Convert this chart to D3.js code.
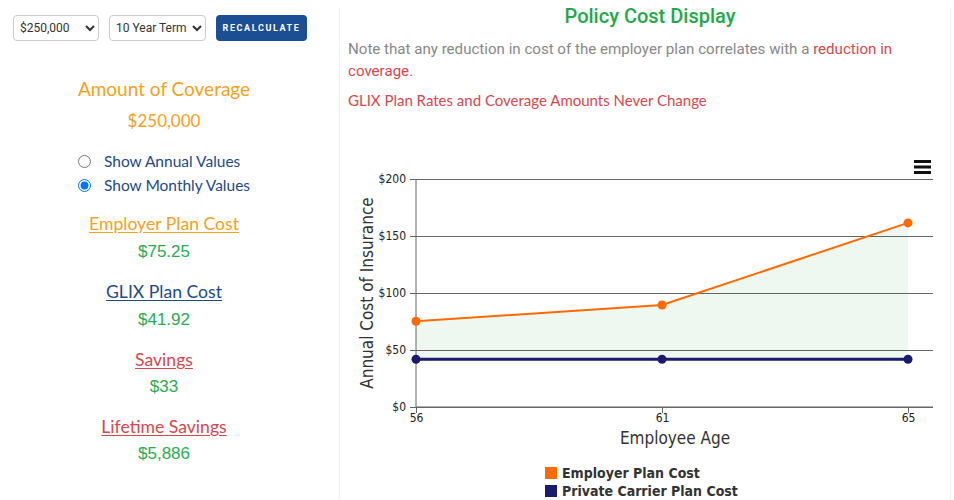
<!DOCTYPE html>
<html>
<head>
<meta charset="utf-8">
<script src="https://cdn.jsdelivr.net/npm/d3@7"></script>
<style>
  body { margin: 0; background: #fff; width: 954px; height: 500px; overflow: hidden; position: relative; font-family: Lato, sans-serif; }
  .abs { position: absolute; }
  select { font-family: Roboto, sans-serif; font-size: 12px; color: #333; height: 26px; border: 1px solid #ccc; border-radius: 4px; background: #fff; padding: 0 2px; }
  .btn { left: 216px; top: 15px; width: 91px; height: 26px; background: #1b4e94; color: #fff; border-radius: 4px;
         font-family: Roboto, sans-serif; font-weight: bold; font-size: 9px; letter-spacing: 1.6px; line-height: 26px; text-align: center; }
  .ctr { left: 0; width: 328px; text-align: center; }
  .lbl { font-size: 17.6px; text-decoration: underline; text-underline-offset: 2px; }
  .val { font-family: "Liberation Sans", Arial, sans-serif; font-size: 17px; color: #27ae4f; }
  .radio { left: 78px; font-size: 15.5px; color: #1d4a8a; display: flex; align-items: center; }
  .radio input { margin: 0 13px 0 0; width: 13px; height: 13px; }
  .divider { top: 8px; width: 1px; height: 492px; background: #f0f0f0; }
</style>
</head>
<body>
<div class="abs divider" style="left:339px"></div>
<div class="abs divider" style="left:950px"></div>

<select class="abs" style="left:13px;top:15px;width:86px"><option>$250,000</option></select>
<select class="abs" style="left:109px;top:15px;width:97px"><option>10 Year Term</option></select>
<div class="abs btn">RECALCULATE</div>

<div class="abs ctr" style="top:77px;font-size:19px;color:#f7a11a">Amount of Coverage</div>
<div class="abs ctr" style="top:110px;font-size:17px;color:#f7a11a">$250,000</div>

<label class="abs radio" style="top:152px"><input type="radio" name="v">Show Annual Values</label>
<label class="abs radio" style="top:176px"><input type="radio" name="v" checked>Show Monthly Values</label>

<div class="abs ctr lbl" style="top:213px;color:#f7a11a">Employer Plan Cost</div>
<div class="abs ctr val" style="top:242px">$75.25</div>
<div class="abs ctr lbl" style="top:281px;color:#1d4a8a">GLIX Plan Cost</div>
<div class="abs ctr val" style="top:310px">$41.92</div>
<div class="abs ctr lbl" style="top:349px;color:#d9474d">Savings</div>
<div class="abs ctr val" style="top:377px">$33</div>
<div class="abs ctr lbl" style="top:416px;color:#d9474d">Lifetime Savings</div>
<div class="abs ctr val" style="top:444px">$5,886</div>

<div class="abs" style="left:348px;width:604px;top:4px;text-align:center;font-family:Roboto,sans-serif;font-weight:500;font-size:20px;color:#1eaa48">Policy Cost Display</div>
<div class="abs" style="left:348px;width:575px;top:38px;font-family:Roboto,sans-serif;font-size:15.1px;line-height:22px;color:#888">Note that any reduction in cost of the employer plan correlates with a <span style="color:#d9474d">reduction in coverage.</span></div>
<div class="abs" style="left:348px;top:91px;font-size:15px;color:#d9474d">GLIX Plan Rates and Coverage Amounts Never Change</div>

<script>
// chart values
var ages = ["56", "61", "65"];
var employerCost = [75.25, 89.5, 161.5];
var glixCost = [41.92, 41.92, 41.92];
var yTicks = [0, 50, 100, 150, 200];
var seriesNames = ["Employer Plan Cost", "Private Carrier Plan Cost"];
var seriesColors = ["#ff6a00", "#1b1b6e"];

var chartFont = "'DejaVu Sans Condensed', 'DejaVu Sans', sans-serif";

var svg = d3.select("body").append("svg")
    .attr("class", "abs")
    .style("left", "0px").style("top", "0px")
    .attr("width", 954)
    .attr("height", 500)
    .style("font-family", chartFont);

var plotLeft = 416, plotRight = 933, plotTop = 179, plotBottom = 407;

var x = d3.scalePoint()
    .domain(ages)
    .range([plotLeft, 908]);

var y = d3.scaleLinear()
    .domain([0, 200])
    .range([plotBottom, plotTop]);

// grid lines + y labels
var yAxis = d3.axisLeft(y)
    .tickValues(yTicks)
    .tickSize(-(plotRight - plotLeft) - 6)
    .tickFormat(function (d) { return "$" + d; });

var gy = svg.append("g")
    .attr("transform", "translate(" + (plotLeft - 6) + ",0)")
    .call(yAxis)
    .attr("font-family", chartFont)
    .attr("font-size", 12);
gy.select(".domain").remove();
gy.selectAll(".tick line").attr("stroke", "#666");
gy.selectAll(".tick text").attr("x", -4).attr("fill", "#222").attr("dy", "0.32em");

// shaded area between the two plans
var area = d3.area()
    .x(function (d, i) { return x(ages[i]); })
    .y0(function (d, i) { return y(glixCost[i]); })
    .y1(function (d) { return y(d); });

svg.insert("path", "g")
    .datum(employerCost)
    .attr("d", area)
    .attr("fill", "#eef8f1");

// y axis line
svg.append("line")
    .attr("x1", plotLeft).attr("x2", plotLeft)
    .attr("y1", plotTop).attr("y2", plotBottom)
    .attr("stroke", "#666");

// x axis
var xAxis = d3.axisBottom(x).tickSize(6).tickSizeOuter(0);
var gx = svg.append("g")
    .attr("transform", "translate(0," + plotBottom + ")")
    .call(xAxis)
    .attr("font-family", chartFont)
    .attr("font-size", 12);
gx.select(".domain").remove();
gx.selectAll(".tick line").attr("stroke", "#666");
gx.selectAll(".tick text").attr("fill", "#222").attr("y", 6);
svg.append("line")
    .attr("x1", plotLeft).attr("x2", plotRight)
    .attr("y1", plotBottom).attr("y2", plotBottom)
    .attr("stroke", "#666");

var line = d3.line()
    .x(function (d, i) { return x(ages[i]); })
    .y(function (d) { return y(d); });

[employerCost, glixCost].forEach(function (vals, k) {
    svg.append("path")
        .datum(vals)
        .attr("d", line)
        .attr("fill", "none")
        .attr("stroke", seriesColors[k])
        .attr("stroke-width", k === 0 ? 2 : 3);
    svg.append("g").selectAll("circle")
        .data(vals)
        .enter().append("circle")
        .attr("cx", function (d, i) { return x(ages[i]); })
        .attr("cy", function (d) { return y(d); })
        .attr("r", 4.5)
        .attr("fill", seriesColors[k]);
});

// axis titles
svg.append("text")
    .attr("transform", "rotate(-90)")
    .attr("x", -293)
    .attr("y", 373)
    .style("text-anchor", "middle")
    .style("font-size", "17px")
    .attr("fill", "#333")
    .text("Annual Cost of Insurance");

svg.append("text")
    .attr("x", 675)
    .attr("y", 444)
    .style("text-anchor", "middle")
    .style("font-size", "17px")
    .attr("fill", "#333")
    .text("Employee Age");

// menu icon
svg.append("g").selectAll("rect")
    .data([0, 1, 2])
    .enter().append("rect")
    .attr("x", 914).attr("y", function (d) { return 160 + d * 5.5; })
    .attr("width", 17).attr("height", 3)
    .attr("fill", "#111");

// legend
var lg = svg.append("g").selectAll("g")
    .data(seriesNames)
    .enter().append("g")
    .attr("transform", function (d, i) { return "translate(545," + (467 + i * 18) + ")"; });
lg.append("rect")
    .attr("width", 12).attr("height", 12)
    .attr("fill", function (d, i) { return seriesColors[i]; });
lg.append("text")
    .attr("x", 17).attr("y", 11)
    .style("font-size", "14px")
    .style("font-weight", "bold")
    .attr("fill", "#333")
    .text(function (d) { return d; });
</script>
</body>
</html>
